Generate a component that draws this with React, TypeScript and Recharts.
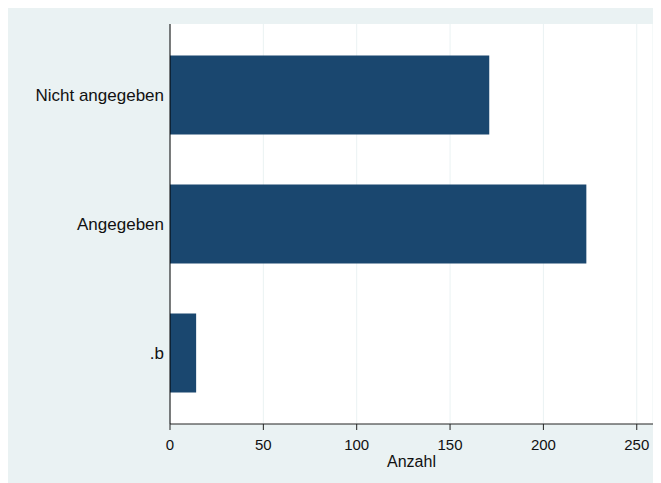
import { BarChart, Bar, XAxis, YAxis, CartesianGrid, Label } from "recharts";

const categories = ["Nicht angegeben", "Angegeben", ".b"];
const counts = [171, 223, 14];
const xTicks = [0, 50, 100, 150, 200, 250];

// numeric category axis so the Stata-style outer gap can be matched; vertical layout runs top-down
const data = categories.map((name, i) => ({
  name,
  pos: i,
  count: counts[i],
}));

const bgColor = "#eaf2f3";
const barColor = "#1a476f";
const font = "'Liberation Sans', Arial, sans-serif";

export default function App() {
  return (
    <div style={{ width: 653, height: 475, background: bgColor, fontFamily: font }}>
      <BarChart
        width={653}
        height={475}
        data={data}
        layout="vertical"
        margin={{ top: 16, right: 8, bottom: 14, left: 0 }}
      >
        <CartesianGrid horizontal={false} stroke={bgColor} fill="#ffffff" />
        <XAxis
          type="number"
          dataKey="count"
          domain={[0, 258.7]}
          ticks={xTicks}
          height={45}
          tick={{ fontSize: 15, fill: "#111", fontFamily: font }}
          tickSize={6}
          tickMargin={9}
          stroke="#222"
        >
          <Label
            value="Anzahl"
            position="insideBottom"
            offset={2}
            style={{ fontSize: 16, fill: "#111", fontFamily: font }}
          />
        </XAxis>
        <YAxis
          type="number"
          dataKey="pos"
          domain={[-0.55, 2.55]}
          ticks={[0, 1, 2]}
          width={162}
          tickLine={false}
          tickMargin={0}
          tickFormatter={(v: number) => categories[v] ?? ""}
          tick={{ fontSize: 17, fill: "#111", fontFamily: font }}
          stroke="#000"
        />
        <Bar dataKey="count" fill={barColor} barSize={79} isAnimationActive={false} />
      </BarChart>
    </div>
  );
}
